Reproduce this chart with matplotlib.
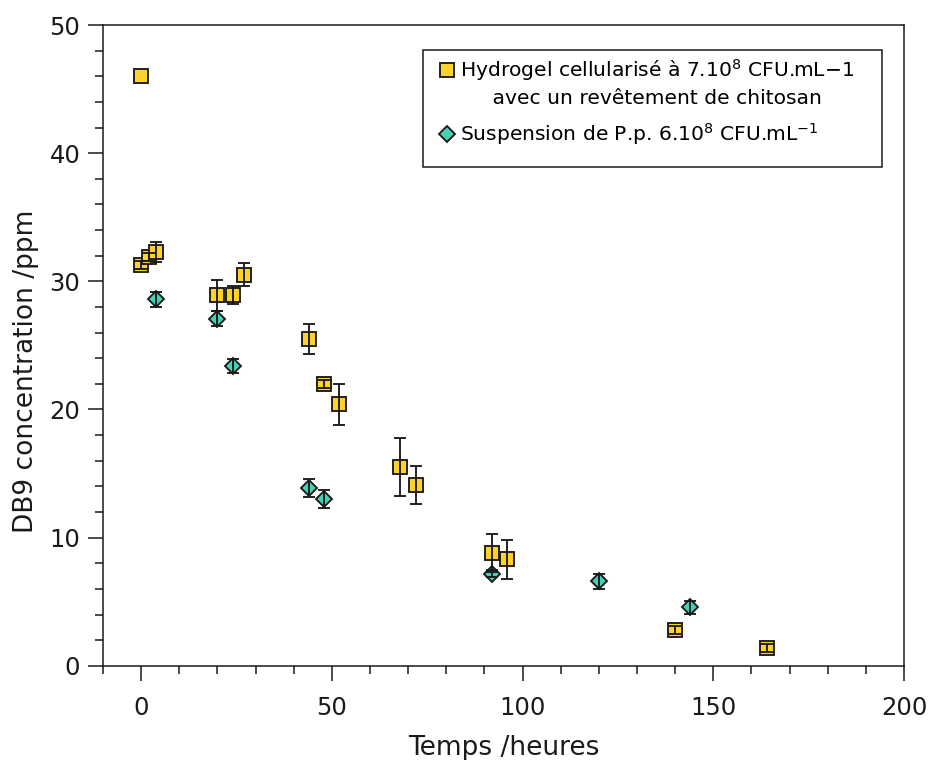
import numpy as np
import matplotlib
matplotlib.use("Agg")
import matplotlib.pyplot as plt
from matplotlib.lines import Line2D
from matplotlib.patches import Rectangle
from matplotlib.ticker import MultipleLocator

# hydrogel cellularise (squares)
t_gel = [0, 0, 2, 4, 20, 24, 27, 44, 48, 52, 68, 72, 92, 96, 140, 164]
c_gel = [46.0, 31.3, 31.9, 32.3, 28.9, 28.9, 30.5, 25.5, 22.0, 20.4, 15.5, 14.1, 8.8, 8.3, 2.8, 1.4]
e_gel = [0.0, 0.3, 0.3, 0.8, 1.2, 0.7, 0.9, 1.15, 0.3, 1.6, 2.25, 1.5, 1.45, 1.5, 0.3, 0.3]

# suspension P.p. (diamonds)
t_sus = [4, 20, 24, 44, 48, 92, 120, 144]
c_sus = [28.6, 27.1, 23.4, 13.85, 13.05, 7.2, 6.6, 4.56]
e_sus = [0.6, 0.6, 0.55, 0.7, 0.7, 0.3, 0.6, 0.5]

yellow = '#ffd22a'
teal = '#48d0b4'
ink = '#1a1a1a'

fig = plt.figure(figsize=(9.31, 7.6), dpi=100)
ax = fig.add_axes([0.1106, 0.124, 0.8604, 0.843])

sq, = ax.plot(t_gel, c_gel, 's', ms=9.9, mfc=yellow, mec=ink, mew=1.35, zorder=2)
di, = ax.plot(t_sus, c_sus, 'D', ms=7.8, mfc=teal, mec=ink, mew=1.35, zorder=2)

# error bars only where there is an error value
for t, c, e in [(t_gel, c_gel, e_gel), (t_sus, c_sus, e_sus)]:
    t, c, e = np.array(t), np.array(c), np.array(e)
    m = e > 0
    ax.errorbar(t[m], c[m], yerr=e[m], fmt='none', ecolor=ink, elinewidth=1.35,
                capsize=4.5, capthick=1.35, zorder=3)

ax.set_xlim(-10, 200)
ax.set_ylim(0, 50)
ax.xaxis.set_major_locator(MultipleLocator(50))
ax.xaxis.set_minor_locator(MultipleLocator(10))
ax.yaxis.set_major_locator(MultipleLocator(10))
ax.yaxis.set_minor_locator(MultipleLocator(2))

for s in ax.spines.values():
    s.set_linewidth(1.1)
    s.set_color(ink)
ax.tick_params(which='both', direction='out', color=ink, width=1.1,
               labelsize=17.5, labelcolor=ink, top=False, right=False)
ax.tick_params(which='major', length=10.8)
ax.tick_params(which='minor', length=6)
ax.tick_params(axis='x', which='major', pad=11)
ax.tick_params(axis='y', which='major', pad=5.5)

ax.set_xlabel('Temps /heures', fontsize=19, color=ink, labelpad=11)
ax.set_ylabel('DB9 concentration /ppm', fontsize=19, color=ink)
ax.yaxis.set_label_coords(-0.08, 0.459)

# legend: entries without frame, frame drawn as a rectangle
blank = Line2D([], [], linestyle='none', marker='none')
leg_opts = dict(loc='upper left', borderaxespad=0, borderpad=0, fontsize=14.6,
                frameon=False, handlelength=0.8, handletextpad=0.25,
                labelspacing=0.3)
leg1 = ax.legend([sq, blank],
                 [r'Hydrogel cellularisé à 7.10$^8$ CFU.mL−1',
                  '     avec un revêtement de chitosan'],
                 bbox_to_anchor=(0.419, 0.950), **leg_opts)
leg1.set_zorder(5)
ax.add_artist(leg1)
leg2 = ax.legend([di], [r'Suspension de P.p. 6.10$^8$ CFU.mL$^{-1}$'],
                 bbox_to_anchor=(0.419, 0.850), **leg_opts)
leg2.set_zorder(5)
ax.add_patch(Rectangle((0.3995, 0.7784), 0.573, 0.1826, transform=ax.transAxes,
                       facecolor='white', edgecolor=ink, linewidth=1.1, zorder=4))

fig.savefig('out.png', dpi=100)
